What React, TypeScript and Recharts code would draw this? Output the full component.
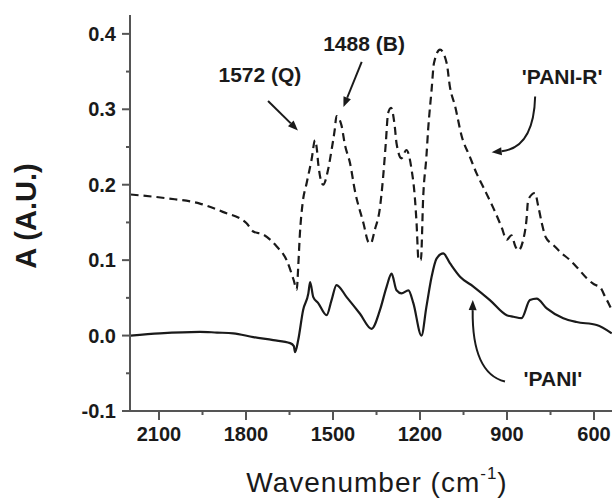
import React from "react";
import { LineChart, Line, XAxis, YAxis } from "recharts";

// FTIR spectra (wavenumber in cm-1, absorbance in A.U.)
const paniRWavenumber = [
  2198, 2073, 1959, 1880, 1798, 1775, 1741, 1694, 1660, 1636, 1625, 1620, 1614,
  1605, 1591, 1574, 1562, 1555, 1551, 1534, 1517, 1505, 1494, 1488, 1471, 1459,
  1441, 1425, 1395, 1378, 1370, 1356, 1338, 1327, 1318, 1310, 1300, 1287, 1281,
  1264, 1247, 1229, 1218, 1212, 1205, 1197, 1189, 1178, 1172, 1160, 1152, 1131,
  1108, 1097, 1079, 1056, 1028, 1005, 982, 947, 919, 901, 885, 871, 861, 844,
  833, 827, 804, 792, 780, 766, 740, 717, 683, 660, 625, 600, 579, 560, 550, 539,
];
const paniRAbsorbance = [
  0.187, 0.182, 0.175, 0.164, 0.149, 0.138, 0.134, 0.118, 0.1, 0.074, 0.061,
  0.091, 0.136, 0.175, 0.202, 0.233, 0.259, 0.245, 0.228, 0.2, 0.22, 0.246,
  0.273, 0.291, 0.279, 0.253, 0.228, 0.193, 0.149, 0.124, 0.122, 0.14, 0.17,
  0.211, 0.255, 0.295, 0.302, 0.277, 0.255, 0.235, 0.246, 0.22, 0.184, 0.15,
  0.1, 0.1, 0.184, 0.237, 0.273, 0.326, 0.361, 0.379, 0.361, 0.33, 0.304, 0.264,
  0.237, 0.215, 0.197, 0.169, 0.144, 0.127, 0.133, 0.118, 0.113, 0.127, 0.153,
  0.18, 0.189, 0.171, 0.149, 0.13, 0.12, 0.111, 0.1, 0.091, 0.076, 0.068, 0.064,
  0.05, 0.043, 0.034,
];

const paniWavenumber = [
  2198, 2097, 1959, 1900, 1844, 1775, 1706, 1648, 1635, 1631, 1620, 1603, 1585,
  1579, 1568, 1551, 1522, 1505, 1488, 1453, 1407, 1367, 1338, 1315, 1298, 1281,
  1264, 1240, 1223, 1195, 1178, 1160, 1143, 1120, 1097, 1062, 1016, 959, 901,
  878, 850, 821, 798, 763, 706, 660, 591, 539,
];
const paniAbsorbance = [
  0.0, 0.003, 0.005, 0.004, 0.003, -0.002, -0.006, -0.01, -0.014, -0.022,
  -0.006, 0.034, 0.056, 0.071, 0.051, 0.043, 0.027, 0.047, 0.067, 0.051, 0.029,
  0.009, 0.034, 0.065, 0.082, 0.06, 0.056, 0.06, 0.043, 0.0, 0.038, 0.078,
  0.102, 0.109, 0.096, 0.078, 0.065, 0.047, 0.027, 0.025, 0.023, 0.047, 0.049,
  0.036, 0.023, 0.018, 0.014, 0.003,
];

const xTicks = [2100, 1950, 1800, 1650, 1500, 1350, 1200, 1050, 900, 750, 600];
const yTicks = [-0.1, -0.05, 0, 0.05, 0.1, 0.15, 0.2, 0.25, 0.3, 0.35, 0.4];

const X_DOMAIN: [number, number] = [538, 2200];
const Y_DOMAIN: [number, number] = [-0.1, 0.425];

// chart geometry
const W = 612;
const H = 498;
const LEFT = 130;
const TOP = 15;
const XAXIS_H = 87;
const BOTTOM = H - XAXIS_H;

const sx = (w: number) =>
  LEFT + ((X_DOMAIN[1] - w) / (X_DOMAIN[1] - X_DOMAIN[0])) * (W - LEFT);
const sy = (a: number) =>
  BOTTOM - ((a - Y_DOMAIN[0]) / (Y_DOMAIN[1] - Y_DOMAIN[0])) * (BOTTOM - TOP);

const paniR = paniRWavenumber.map((w, i) => ({ w, a: paniRAbsorbance[i] }));
const pani = paniWavenumber.map((w, i) => ({ w, a: paniAbsorbance[i] }));

type Pt = [number, number];
const annotations: {
  text: string;
  at: Pt;
  from: Pt;
  to: Pt;
  ctrl?: Pt;
}[] = [
  { text: "1572 (Q)", at: [1752, 0.346], from: [1724, 0.311], to: [1621, 0.272] },
  { text: "1488 (B)", at: [1393, 0.387], from: [1401, 0.363], to: [1464, 0.303] },
  {
    text: "'PANI-R'",
    at: [710, 0.343],
    from: [803, 0.317],
    ctrl: [808, 0.249],
    to: [953, 0.243],
  },
  {
    text: "'PANI'",
    at: [742, -0.058],
    from: [907, -0.061],
    ctrl: [1021, -0.05],
    to: [1018, 0.047],
  },
];

const AXIS = "#555";
const INK = "#1a1a1a";
const FONT = "'Liberation Sans', Arial, sans-serif";

const isMajor = (v: number, step: number) =>
  Math.abs(v / step - Math.round(v / step)) < 1e-6;

function XTick(props: any) {
  const { x, y, payload } = props;
  const major = isMajor(payload.value, 300);
  return (
    <g>
      <line x1={x} x2={x} y1={y} y2={y + (major ? 9 : 4)} stroke={AXIS} strokeWidth={2} />
      {major && (
        <text
          x={x}
          y={y + 30}
          textAnchor="middle"
          fontFamily={FONT}
          fontWeight="bold"
          fontSize={20}
          fill={INK}
        >
          {payload.value}
        </text>
      )}
    </g>
  );
}

function YTick(props: any) {
  const { x, y, payload } = props;
  const major = isMajor(payload.value, 0.1);
  return (
    <g>
      <line x1={x - (major ? 8 : 4)} x2={x} y1={y} y2={y} stroke={AXIS} strokeWidth={2} />
      {major && (
        <text
          x={x - 14}
          y={y + 7}
          textAnchor="end"
          fontFamily={FONT}
          fontWeight="bold"
          fontSize={20}
          fill={INK}
        >
          {payload.value.toFixed(1)}
        </text>
      )}
    </g>
  );
}

function Arrow({ from, to, ctrl }: { from: Pt; to: Pt; ctrl?: Pt }) {
  const x0 = sx(from[0]);
  const y0 = sy(from[1]);
  const x1 = sx(to[0]);
  const y1 = sy(to[1]);
  const cx = ctrl ? sx(ctrl[0]) : x0;
  const cy = ctrl ? sy(ctrl[1]) : y0;
  const ang = Math.atan2(y1 - cy, x1 - cx);
  const len = 10;
  const half = 4;
  const bx = x1 - len * Math.cos(ang);
  const by = y1 - len * Math.sin(ang);
  const px = -Math.sin(ang) * half;
  const py = Math.cos(ang) * half;
  const d = ctrl
    ? `M${x0},${y0} Q${cx},${cy} ${bx},${by}`
    : `M${x0},${y0} L${bx},${by}`;
  return (
    <g>
      <path d={d} fill="none" stroke={INK} strokeWidth={2} />
      <polygon
        points={`${x1},${y1} ${bx + px},${by + py} ${bx - px},${by - py}`}
        fill={INK}
      />
    </g>
  );
}

export default function App() {
  return (
    <div
      style={{
        position: "absolute",
        left: 0,
        top: 0,
        width: W,
        height: H,
        background: "#fff",
        overflow: "hidden",
      }}
    >
      <LineChart
        width={W}
        height={H}
        margin={{ top: TOP, right: 0, bottom: 0, left: 0 }}
      >
        <XAxis
          dataKey="w"
          type="number"
          domain={X_DOMAIN}
          reversed
          allowDataOverflow
          ticks={xTicks}
          interval={0}
          height={XAXIS_H}
          tickSize={0}
          tickMargin={0}
          tickLine={false}
          axisLine={{ stroke: AXIS, strokeWidth: 2 }}
          tick={<XTick />}
        />
        <YAxis
          type="number"
          domain={Y_DOMAIN}
          allowDataOverflow
          ticks={yTicks}
          interval={0}
          width={LEFT}
          tickSize={0}
          tickMargin={0}
          tickLine={false}
          axisLine={{ stroke: AXIS, strokeWidth: 2 }}
          tick={<YTick />}
        />
        <Line
          data={paniR}
          dataKey="a"
          type="monotone"
          stroke={INK}
          strokeWidth={2.2}
          strokeDasharray="8 5"
          dot={false}
          isAnimationActive={false}
        />
        <Line
          data={pani}
          dataKey="a"
          type="monotone"
          stroke={INK}
          strokeWidth={2.2}
          dot={false}
          isAnimationActive={false}
        />
      </LineChart>
      <svg
        width={W}
        height={H}
        style={{ position: "absolute", left: 0, top: 0, pointerEvents: "none" }}
      >
        {annotations.map((a) => (
          <g key={a.text}>
            <text
              x={sx(a.at[0])}
              y={sy(a.at[1]) + 7}
              textAnchor="middle"
              fontFamily={FONT}
              fontWeight="bold"
              fontSize={21}
              fill={INK}
            >
              {a.text}
            </text>
            <Arrow from={a.from} to={a.to} ctrl={a.ctrl} />
          </g>
        ))}
        <text
          transform={`translate(36, 216) rotate(-90)`}
          textAnchor="middle"
          fontFamily={FONT}
          fontWeight="bold"
          fontSize={29}
          fill={INK}
        >
          A (A.U.)
        </text>
        <text
          x={377}
          y={492}
          textAnchor="middle"
          fontFamily={FONT}
          fontSize={28}
          letterSpacing={1}
          fill={INK}
        >
          Wavenumber (cm
          <tspan fontSize={17} dy={-13}>
            -1
          </tspan>
          <tspan dy={13}>)</tspan>
        </text>
      </svg>
    </div>
  );
}
